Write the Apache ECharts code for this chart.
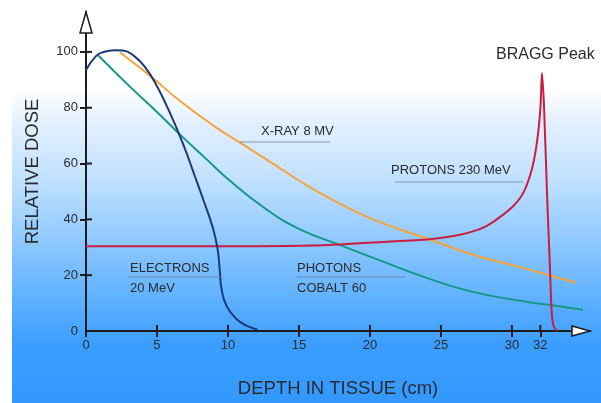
<!DOCTYPE html>
<html><head><meta charset="utf-8">
<script src="https://cdn.jsdelivr.net/npm/echarts@6/dist/echarts.min.js"></script>
<style>html,body{margin:0;padding:0;background:#fff}#c{width:601px;height:403px}</style>
</head><body><div id="c"></div><script>
// ---- data ----
const xTickLabels = [0, 5, 10, 15, 20, 25, 30, 32];
const yTickLabels = [0, 20, 40, 60, 80, 100];
const xAxisName = 'DEPTH IN TISSUE (cm)';
const yAxisName = 'RELATIVE DOSE';

const electronsX = [0, 0.7, 1.2, 2.0, 2.6, 3.4, 4.2, 5.0, 5.8, 6.8, 7.7, 8.3, 8.9, 9.25, 9.42, 9.55, 9.9, 10.6, 11.3, 12.1];
const electronsY = [93.5, 98.5, 99.9, 100.6, 100.5, 98.5, 94.3, 87.7, 79.4, 67.5, 55, 46.5, 37.5, 30, 22, 15, 9, 4.3, 1.9, 0.5];

const photonsX = [0.85, 3, 5, 6.7, 8.5, 10.1, 12.6, 15.0, 18.1, 20.7, 23.8, 27.1, 30.6, 32.7, 35.0];
const photonsY = [98.8, 88, 78.5, 70, 61.5, 54, 44, 36.6, 30.4, 25.3, 19.4, 14.2, 10.8, 9.3, 7.6];

const xrayX = [2.4, 4.5, 6.6, 9.0, 10.85, 13.0, 16.0, 18.4, 20.7, 24.2, 27.1, 30.6, 32.7, 34.5];
const xrayY = [99.8, 91.5, 82.5, 73.5, 67.5, 60.5, 50.8, 44.3, 39, 32.8, 27.6, 22.8, 19.9, 17.4];

const protonsX = [0, 12, 16, 18.1, 21, 24.2, 25.9, 27.2, 28.2, 29.2, 30.1, 30.8, 31.4, 31.76, 32.0, 32.12, 32.27, 32.47, 32.7, 32.8, 32.95, 33.2];
const protonsY = [30.4, 30.4, 30.6, 31.1, 31.9, 32.9, 34, 35.6, 37.6, 41, 44.8, 49.5, 57.9, 67.5, 79.3, 92.4, 79.3, 49.6, 19.8, 6.7, 1.5, 0];

const labelXray = 'X-RAY 8 MV';
const labelProtons = 'PROTONS 230 MeV';
const labelElectrons = ['ELECTRONS', '20 MeV'];
const labelPhotons = ['PHOTONS', 'COBALT 60'];
const labelBragg = 'BRAGG Peak';

// ---- chart ----
const FONT = '"Liberation Sans", Arial, Helvetica, sans-serif';
const TXT = '#2b2b2b';
const AX = '#1c1c1c';
const XMAX = 35.5, YMAX = 114.3;
const pairs = (xs, ys) => xs.map((x, i) => [x, ys[i]]);

const chart = echarts.init(document.getElementById('c'), null, {renderer: 'canvas'});

const option = {
  backgroundColor: '#ffffff',
  animation: false,
  grid: {left: 86, right: 11, top: 12, bottom: 71, containLabel: false},
  xAxis: {
    type: 'value', min: 0, max: XMAX, splitLine: {show: false},
    axisLine: {show: true, lineStyle: {color: AX, width: 2}},
    axisTick: {show: true, length: 6, lineStyle: {color: AX, width: 2}, customValues: xTickLabels},
    axisLabel: {show: true, color: TXT, fontFamily: FONT, fontSize: 13, margin: 8, customValues: xTickLabels},
    name: xAxisName, nameLocation: 'middle', nameGap: 48,
    nameTextStyle: {color: TXT, fontFamily: FONT, fontSize: 18.5}
  },
  yAxis: {
    type: 'value', min: 0, max: YMAX, splitLine: {show: false},
    axisLine: {show: true, lineStyle: {color: AX, width: 2}},
    axisTick: {show: true, length: 6, lineStyle: {color: AX, width: 2}, customValues: yTickLabels.slice(1)},
    axisLabel: {show: true, color: TXT, fontFamily: FONT, fontSize: 13, margin: 8, customValues: yTickLabels},
    name: yAxisName, nameLocation: 'middle', nameGap: 44, nameRotate: 90,
    nameTextStyle: {color: TXT, fontFamily: FONT, fontSize: 18.5}
  },
  series: [
    {name: 'Photons', type: 'line', data: pairs(photonsX, photonsY), smooth: 0.5, showSymbol: false,
     lineStyle: {color: '#149888', width: 2}, z: 3},
    {name: 'X-ray', type: 'line', data: pairs(xrayX, xrayY), smooth: 0.5, showSymbol: false,
     lineStyle: {color: '#f8a33a', width: 2}, z: 4},
    {name: 'Protons', type: 'line', data: pairs(protonsX, protonsY), smooth: 0.3, showSymbol: false,
     lineStyle: {color: '#cc1c40', width: 2}, z: 5},
    {name: 'Electrons', type: 'line', data: pairs(electronsX, electronsY), smooth: 0.5, showSymbol: false,
     lineStyle: {color: '#1b3a78', width: 2}, z: 6}
  ]
};
chart.setOption(option);

// decorations: background, arrows, inner tick halves, annotation texts
const yTip = chart.convertToPixel({gridIndex: 0}, [0, YMAX]);
const xTip = chart.convertToPixel({gridIndex: 0}, [XMAX, 0]);

function txt(x, y, text, size) {
  return {type: 'text', x: x, y: y, z: 50, silent: true,
    style: {text: text, fill: TXT, font: size + 'px ' + FONT, textVerticalAlign: 'middle', textAlign: 'left'}};
}
function uline(x1, x2, y) {
  return {type: 'line', z: 40, silent: true, shape: {x1: x1, y1: y, x2: x2, y2: y},
    style: {stroke: 'rgba(110,125,140,0.75)', lineWidth: 1}};
}
function seg(x1, y1, x2, y2) {
  return {type: 'line', z: 90, silent: true, shape: {x1: x1, y1: y1, x2: x2, y2: y2},
    style: {stroke: AX, lineWidth: 2}};
}

const graphics = [
  {type: 'rect', z: -100, silent: true, shape: {x: 12, y: 0, width: 601, height: 403},
   style: {fill: new echarts.graphic.LinearGradient(0, 0, 0, 1, [
     {offset: 0, color: '#ffffff'},
     {offset: 0.22, color: '#ffffff'},
     {offset: 0.30, color: '#e4f1ff'},
     {offset: 0.45, color: '#bfe0ff'},
     {offset: 0.60, color: '#8ec8ff'},
     {offset: 0.75, color: '#5cb0ff'},
     {offset: 0.86, color: '#3a9dff'},
     {offset: 1, color: '#3399ff'}
   ])}},
  {type: 'polygon', z: 100, silent: true,
   shape: {points: [[yTip[0], yTip[1]], [yTip[0] - 6, yTip[1] + 21], [yTip[0] + 6, yTip[1] + 21]]},
   style: {fill: '#ffffff', stroke: AX, lineWidth: 1.5}},
  {type: 'polygon', z: 100, silent: true,
   shape: {points: [[xTip[0], xTip[1]], [xTip[0] - 18, xTip[1] - 5], [xTip[0] - 18, xTip[1] + 5]]},
   style: {fill: '#ffffff', stroke: AX, lineWidth: 1.5}},
  txt(261, 131, labelXray, 13),
  uline(240, 330, 142),
  txt(391, 170, labelProtons, 13),
  uline(395, 523, 182),
  txt(130, 268, labelElectrons[0], 13),
  txt(130, 288, labelElectrons[1], 13),
  uline(128, 222, 277),
  txt(297, 268, labelPhotons[0], 13),
  txt(297, 288, labelPhotons[1], 13),
  uline(297, 406, 277),
  txt(496, 55, labelBragg, 16)
];
xTickLabels.slice(1).forEach(v => {
  const p = chart.convertToPixel({gridIndex: 0}, [v, 0]);
  graphics.push(seg(p[0], p[1] - 6, p[0], p[1]));
});
yTickLabels.slice(1).forEach(v => {
  const p = chart.convertToPixel({gridIndex: 0}, [0, v]);
  graphics.push(seg(p[0], p[1], p[0] + 6, p[1]));
});
chart.setOption({graphic: graphics});
</script></body></html>
